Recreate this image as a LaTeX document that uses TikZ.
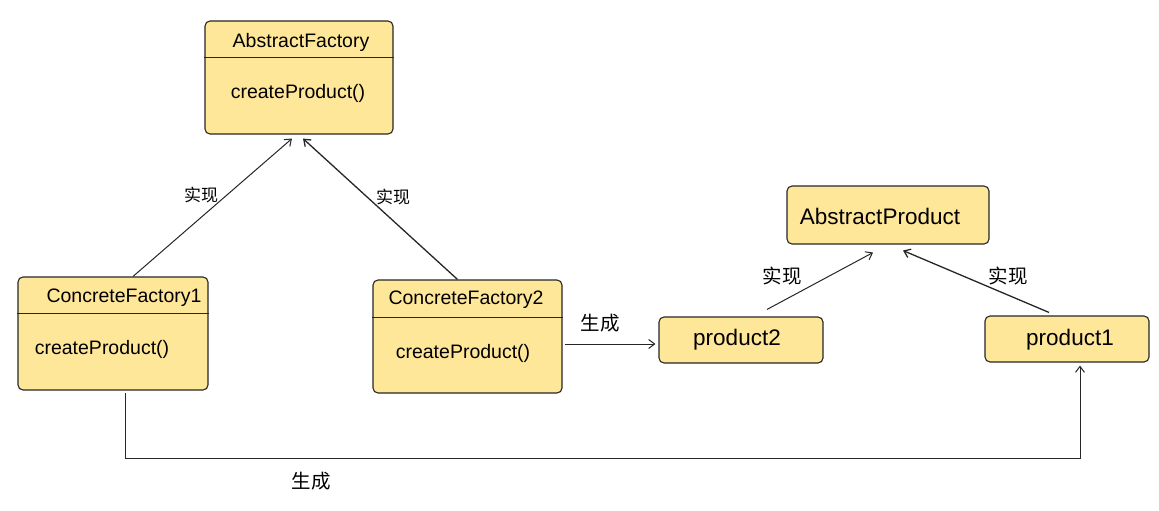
\documentclass[tikz,border=0pt]{standalone}
\usepackage{fontspec}
\setmainfont{Liberation Sans}
\newfontfamily\cjk{Noto Sans CJK SC}
\usetikzlibrary{arrows.meta}
\definecolor{boxfill}{RGB}{255,231,153}
\tikzset{ c/.style = { rectangle % class box
, rounded corners = 5pt
, draw = black!85
, line width = 1.1pt
, fill = boxfill
}
, t/.style = { font = \fontsize{19.5}{22}\selectfont % box text
}
, tp/.style = { font = \fontsize{22.5}{26}\selectfont % product text
}
, l/.style = { font = \cjk\fontsize{17}{20}\selectfont % label
}
, lb/.style = { font = \cjk\fontsize{19.5}{22}\selectfont % big label
}
, a/.style = { -{Straight Barb[length=6pt,width=9pt]} % connector
, line width = 1pt
, draw = black!85
}
}
\def\cls(#1)#2{% divider in a box
\draw[line width=1pt, draw=black!85] (#2.west |- 0,#1) -- (#2.east |- 0,#1);
}

\begin{document}
\begin{tikzpicture}[x=1pt, y=-1pt]
\useasboundingbox (0,0) rectangle (1159,511);
\node[c, minimum width=188pt, minimum height=113pt] (af) at (299,77.5) {};
\node[c, minimum width=190pt, minimum height=113pt] (cfa) at (113,333.5) {};
\node[c, minimum width=189pt, minimum height=113pt] (cfb) at (467.5,336.5) {};
\node[c, minimum width=202pt, minimum height=58pt] (ap) at (888,215) {};
\node[c, minimum width=164pt, minimum height=46pt] (pb) at (741,340) {};
\node[c, minimum width=164pt, minimum height=46pt] (pa) at (1067,339) {};
\cls(58){af}
\cls(313){cfa}
\cls(317){cfb}

\node[t] (afT) at (301,42) {AbstractFactory};
\node[t] (afM) at (298,93) {createProduct()};
\node[t] (cfaT) at (124,298) {ConcreteFactory1};
\node[t] (cfaM) at (102,349) {createProduct()};
\node[t] (cfbT) at (466,300) {ConcreteFactory2};
\node[t] (cfbM) at (463,353) {createProduct()};
\node[tp] (apT) at (880,216) {AbstractProduct};
\node[tp] (pbT) at (737,340) {product2};
\node[tp] (paT) at (1070,340) {product1};

\draw[a] ([xshift=20pt]cfa.north) -- ([xshift=-7pt,yshift=-4pt]af.south);
\draw[a, line width=1.3pt] ([xshift=-10pt]cfb.north) -- ([xshift=4pt,yshift=-4pt]af.south);
\draw[a] ([xshift=2pt,yshift=-7.5pt]cfb.east) -- ([xshift=-3pt,yshift=-4pt]pb.west);
\draw[a] ([xshift=26pt,yshift=7pt]pb.north) -- ([xshift=-15pt,yshift=-8pt]ap.south);
\draw[a, line width=1.3pt] ([xshift=-18pt,yshift=3pt]pa.north) -- ([xshift=15pt,yshift=-6pt]ap.south);
\draw[a] ([xshift=12pt,yshift=-2pt]cfa.south) -- ++(0,66) -| ([xshift=13pt,yshift=-3pt]pa.south);

\node[l] (sxA) at (201,195) {实现};
\node[l] (sxB) at (393,197) {实现};
\node[lb] (scA) at (600,323) {生成};
\node[lb] (sxC) at (782,276) {实现};
\node[lb] (sxD) at (1008,276) {实现};
\node[lb] (scB) at (311,481) {生成};
\end{tikzpicture}
\end{document}
